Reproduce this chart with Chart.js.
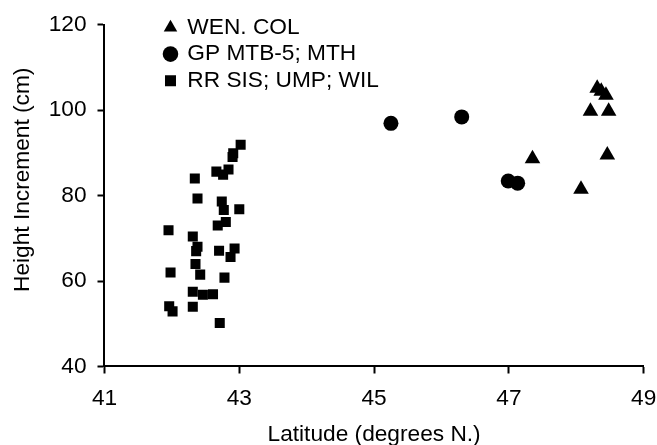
<!DOCTYPE html>
<html>
<head>
<meta charset="utf-8">
<script src="https://cdn.jsdelivr.net/npm/chart.js@4.4.1/dist/chart.umd.min.js"></script>
<style>
  html, body { margin: 0; padding: 0; background: #fff; }
  #wrap { width: 657px; height: 445px; }
</style>
</head>
<body>
<div id="wrap"><canvas id="chart"></canvas></div>
<script>
// Height increment vs latitude, three seed source groups

const seriesNames = ["WEN. COL", "GP MTB-5; MTH", "RR SIS; UMP; WIL"];

// WEN. COL (triangles)
const wenLat = [47.35, 48.07, 48.21, 48.48, 48.46, 48.31, 48.37, 48.44];
const wenHeight = [88.6, 81.5, 99.7, 99.7, 89.5, 105.1, 104.4, 103.5];

// GP MTB-5; MTH (circles)
const gpLat = [45.25, 46.3, 46.99, 47.13];
const gpHeight = [96.9, 98.4, 83.4, 82.9];

// RR SIS; UMP; WIL (squares)
const rrLat = [
  42.34, 42.38, 42.66, 42.76, 42.84, 42.9, 42.91, 43.02, 42.74, 42.77, 43.0,
  42.8, 42.68, 41.95, 42.31, 42.38, 42.36, 42.7, 42.93, 42.87, 42.35, 41.98,
  42.42, 42.78, 42.31, 42.46, 42.61, 41.96, 42.01, 42.31, 42.71,
];
const rrHeight = [
  84.0, 79.3, 85.6, 84.9, 86.1, 89.0, 89.9, 91.9, 78.6, 76.6, 76.8,
  73.8, 73.0, 71.9, 70.4, 68.0, 67.0, 67.1, 67.6, 65.6, 64.0, 62.0,
  61.5, 60.8, 57.5, 56.8, 56.9, 54.1, 52.9, 54.0, 50.2,
];

const xTicks = [41, 43, 45, 47, 49];
const yTicks = [40, 60, 80, 100, 120];

const toPoints = (xs, ys) => xs.map((x, i) => ({ x: x, y: ys[i] }));

const FONT = "'Liberation Sans', Arial, Helvetica, sans-serif";
const FS = 22.7;

// put the legend column in the upper left of the plot area
const legendShift = {
  id: "legendShift",
  afterLayout(chart) {
    const lg = chart.legend;
    const area = chart.chartArea;
    if (!lg || !area) return;
    lg.left = area.left + 56.6;
    lg.right = area.right;
    lg.top = area.top - 12.35;
    lg.bottom = area.bottom;
  },
};

Chart.defaults.font.family = FONT;
Chart.defaults.color = "#000";

new Chart(document.getElementById("chart"), {
  type: "scatter",
  data: {
    datasets: [
      {
        label: seriesNames[0],
        data: toPoints(wenLat, wenHeight),
        pointStyle: "triangle",
        pointRadius: 9,
        backgroundColor: "#000",
        borderColor: "#000",
        borderWidth: 0,
      },
      {
        label: seriesNames[1],
        data: toPoints(gpLat, gpHeight),
        pointStyle: "circle",
        pointRadius: 7.5,
        backgroundColor: "#000",
        borderColor: "#000",
        borderWidth: 0,
      },
      {
        label: seriesNames[2],
        data: toPoints(rrLat, rrHeight),
        pointStyle: "rect",
        pointRadius: 7.1,
        backgroundColor: "#000",
        borderColor: "#000",
        borderWidth: 0,
      },
    ],
  },
  options: {
    responsive: true,
    maintainAspectRatio: false,
    animation: false,
    layout: {
      padding: { top: 24.3, right: 13.3, bottom: 0, left: 0 },
    },
    plugins: {
      tooltip: { enabled: false },
      legend: {
        position: "chartArea",
        align: "start",
        labels: {
          usePointStyle: true,
          boxWidth: 11,
          boxHeight: 11,
          padding: 3.9,
          color: "#000",
          font: { size: FS, family: FONT },
        },
      },
    },
    scales: {
      x: {
        type: "linear",
        min: xTicks[0],
        max: xTicks[xTicks.length - 1],
        afterBuildTicks: (scale) => {
          scale.ticks = xTicks.map((v) => ({ value: v }));
        },
        grid: {
          drawOnChartArea: false,
          tickLength: 7,
          tickWidth: 2,
          tickColor: "#000",
        },
        border: { color: "#000", width: 2 },
        ticks: {
          padding: 0,
          color: "#000",
          font: { size: FS, family: FONT, lineHeight: 2.25 },
        },
        title: {
          display: true,
          text: "Latitude (degrees N.)",
          color: "#000",
          font: { size: FS, family: FONT, lineHeight: 0.9 },
          padding: { top: 0, bottom: 0 },
        },
      },
      y: {
        type: "linear",
        min: yTicks[0],
        max: yTicks[yTicks.length - 1],
        afterBuildTicks: (scale) => {
          scale.ticks = yTicks.map((v) => ({ value: v }));
        },
        grid: {
          drawOnChartArea: false,
          tickLength: 7,
          tickWidth: 2,
          tickColor: "#000",
        },
        border: { color: "#000", width: 2 },
        ticks: {
          padding: 11,
          color: "#000",
          font: { size: FS, family: FONT },
        },
        title: {
          display: true,
          // leading spaces lift the rotated title above the axis centre, as in the original
          text: "     Height Increment (cm)",
          color: "#000",
          font: { size: FS, family: FONT },
          padding: { top: 9.4, bottom: 1 },
        },
      },
    },
  },
  plugins: [legendShift],
});
</script>
</body>
</html>
